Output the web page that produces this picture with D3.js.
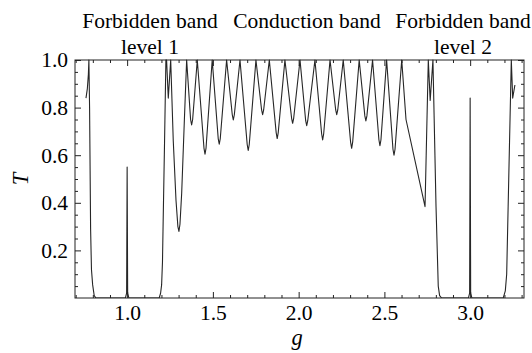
<!DOCTYPE html>
<html><head><meta charset="utf-8">
<script src="https://cdn.jsdelivr.net/npm/d3@7"></script>
<style>
body{margin:0;background:#fff}
svg{display:block}
text{font-family:"Liberation Serif","Times New Roman",serif;fill:#000}
</style>
</head><body>
<svg id="c" width="532" height="353"></svg>
<script>
// ---- data ----
const gValues = [
  0.760,0.768,0.774,0.777,0.781,0.787,0.792,0.799,0.808,0.818,
  0.990,0.997,1.000,1.003,1.010,
  1.187,1.195,1.201,1.206,1.210,1.218,1.226,1.230,1.240,1.254,
  1.269,1.285,1.296,1.302,1.308,1.318,1.333,1.347,
  1.370,1.376,1.382,1.409,1.448,1.454,1.460,1.496,1.531,1.537,1.543,1.580,
  1.613,1.619,1.625,1.658,1.700,1.706,1.712,1.751,1.784,1.790,1.796,1.829,
  1.869,1.875,1.881,1.920,1.959,1.965,1.971,2.008,2.041,2.047,2.053,2.095,
  2.134,2.140,2.146,2.183,2.216,2.222,2.228,2.260,2.303,2.309,2.315,2.353,
  2.386,2.392,2.398,2.431,2.468,2.474,2.480,2.513,2.550,2.556,2.562,2.601,
  2.626,2.737,2.756,2.767,2.783,2.801,2.814,2.822,2.834,
  2.990,2.997,3.000,3.003,3.010,
  3.193,3.205,3.213,3.225,3.240,3.248,3.261
];
const tValues = [
  0.84,0.88,0.94,1.00,0.80,0.29,0.12,0.055,0.01,0.0,
  0.0,0.02,0.55,0.02,0.0,
  0.0,0.02,0.055,0.15,0.32,0.65,1.0,1.0,0.84,1.0,
  0.66,0.41,0.30,0.28,0.31,0.44,0.734,1.0,
  0.75,0.727,0.75,1.0,0.63,0.604,0.63,1.0,0.67,0.646,0.67,1.0,
  0.77,0.748,0.77,1.0,0.645,0.62,0.645,1.0,0.79,0.77,0.79,1.0,
  0.695,0.67,0.695,1.0,0.755,0.734,0.755,1.0,0.745,0.724,0.745,1.0,
  0.69,0.664,0.69,1.0,0.79,0.77,0.79,1.0,0.655,0.629,0.655,1.0,
  0.765,0.744,0.765,1.0,0.665,0.64,0.665,1.0,0.625,0.60,0.625,1.0,
  0.75,0.384,1.0,0.83,1.0,0.385,0.05,0.01,0.0,
  0.0,0.02,0.84,0.02,0.0,
  0.0,0.03,0.10,0.50,1.0,0.84,0.895
];
const xMajor = [1.0,1.5,2.0,2.5,3.0];
const xMinor = [0.7,0.8,0.9,1.1,1.2,1.3,1.4,1.6,1.7,1.8,1.9,2.1,2.2,2.3,2.4,2.6,2.7,2.8,2.9,3.1,3.2,3.3];
const yMajor = [0.2,0.4,0.6,0.8,1.0];
const yMinor = [0.05,0.1,0.15,0.25,0.3,0.35,0.45,0.5,0.55,0.65,0.7,0.75,0.85,0.9,0.95];
const bandLine1 = ["Forbidden band","Conduction band","Forbidden band"];
const bandLine2 = ["level 1","","level 2"];
const xLabel = "g", yLabel = "T";

// ---- layout ----
const L=75, R=524, T=60, B=298;
const svg = d3.select("#c");
const x = d3.scaleLinear().domain([0.696,3.314]).range([L,R]);
const y = d3.scaleLinear().domain([0,1]).range([B,T]);
const FS = 21.5;

svg.append("clipPath").attr("id","clip").append("rect")
  .attr("x",L).attr("y",T-1).attr("width",R-L).attr("height",B-T+1);

const pts = gValues.map((g,i)=>[g,tValues[i]]);
svg.append("path").datum(pts)
  .attr("clip-path","url(#clip)")
  .attr("fill","none").attr("stroke","#262626").attr("stroke-width",1.1)
  .attr("stroke-linejoin","round")
  .attr("d", d3.line().x(d=>x(d[0])).y(d=>y(d[1])));

function styleAxis(g){
  g.select(".domain").remove();
  g.selectAll("line").attr("stroke","#222");
  g.selectAll("text").attr("font-family","Liberation Serif").attr("font-size",FS).attr("fill","#000");
}
// bottom
svg.append("g").attr("transform",`translate(0,${B})`)
  .call(d3.axisBottom(x).tickValues(xMajor).tickSize(-6).tickPadding(7).tickFormat(d3.format(".1f"))).call(styleAxis);
svg.append("g").attr("transform",`translate(0,${B})`)
  .call(d3.axisBottom(x).tickValues(xMinor).tickSize(-3).tickFormat("")).call(styleAxis);
// top
svg.append("g").attr("transform",`translate(0,${T})`)
  .call(d3.axisTop(x).tickValues(xMajor).tickSize(-6).tickFormat("")).call(styleAxis);
svg.append("g").attr("transform",`translate(0,${T})`)
  .call(d3.axisTop(x).tickValues(xMinor).tickSize(-3).tickFormat("")).call(styleAxis);
// left
svg.append("g").attr("transform",`translate(${L},0)`)
  .call(d3.axisLeft(y).tickValues(yMajor).tickSize(-6).tickPadding(7).tickFormat(d3.format(".1f"))).call(styleAxis);
svg.append("g").attr("transform",`translate(${L},0)`)
  .call(d3.axisLeft(y).tickValues(yMinor).tickSize(-3).tickFormat("")).call(styleAxis);
// right
svg.append("g").attr("transform",`translate(${R},0)`)
  .call(d3.axisRight(y).tickValues(yMajor).tickSize(-6).tickFormat("")).call(styleAxis);
svg.append("g").attr("transform",`translate(${R},0)`)
  .call(d3.axisRight(y).tickValues(yMinor).tickSize(-3).tickFormat("")).call(styleAxis);

svg.append("rect").attr("x",L).attr("y",T).attr("width",R-L).attr("height",B-T)
  .attr("fill","none").attr("stroke","#222").attr("stroke-width",1);

// band labels
const bandX = [150,307,463];
bandLine1.forEach((s,i)=>{
  svg.append("text").attr("x",bandX[i]).attr("y",28).attr("text-anchor","middle")
    .attr("font-size",FS).text(s);
  if(bandLine2[i]) svg.append("text").attr("x",bandX[i]).attr("y",54).attr("text-anchor","middle")
    .attr("font-size",FS).text(bandLine2[i]);
});

// axis titles
svg.append("text").attr("x",297).attr("y",345).attr("text-anchor","middle")
  .attr("font-size",FS+1).attr("font-style","italic").text(xLabel);
svg.append("text").attr("transform",`translate(28,${(T+B)/2}) rotate(-90)`)
  .attr("text-anchor","middle").attr("font-size",FS+1).attr("font-style","italic").text(yLabel);
</script>
</body></html>
